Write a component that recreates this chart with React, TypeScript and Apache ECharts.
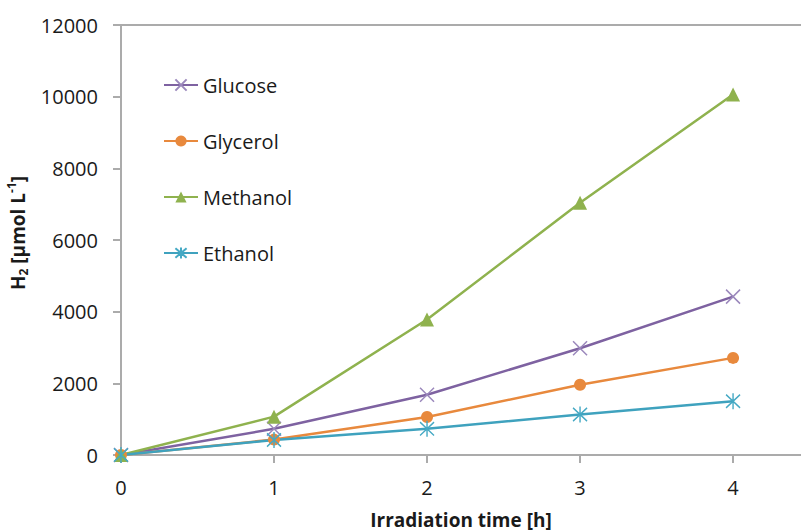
import React, { useEffect, useRef } from "react";
import * as echarts from "echarts";

const hours = [0, 1, 2, 3, 4];
const glucose = [0, 730, 1680, 2980, 4420];
const glycerol = [0, 430, 1060, 1960, 2710];
const methanol = [0, 1070, 3780, 7040, 10060];
const ethanol = [0, 420, 730, 1130, 1500];
const yTicks = [0, 2000, 4000, 6000, 8000, 10000, 12000];

const FONT = "Open Sans";
const AXIS_GRAY = "#ABABAB";

const pairs = (vals: number[]) => hours.map((h, i) => [h, vals[i]]);

export default function App() {
  const ref = useRef<HTMLDivElement>(null);
  useEffect(() => {
    document.body.style.margin = "0";
    if (!ref.current) return;
    const chart = echarts.init(ref.current, undefined, { renderer: "svg" });
    const xMax = 4.444;
    chart.setOption({
      animation: false,
      backgroundColor: "#ffffff",
      textStyle: { fontFamily: FONT },
      grid: { left: 121, right: 0, top: 25, bottom: 77, containLabel: false, outerBoundsMode: "none" },
      legend: {
        orient: "vertical",
        left: 158,
        top: 70,
        itemWidth: 34,
        itemHeight: 14,
        itemGap: 36,
        textStyle: { fontFamily: FONT, fontSize: 20, lineHeight: 20, color: "#1a1a1a" },
        data: ["Glucose", "Glycerol", "Methanol", "Ethanol"],
      },
      xAxis: [
        {
          type: "value",
          min: 0,
          max: xMax,
          interval: 1,
          name: "Irradiation time [h]",
          nameLocation: "middle",
          nameGap: 55,
          nameTextStyle: { fontFamily: FONT, fontSize: 19, fontWeight: "bold", color: "#1a1a1a" },
          axisLine: { show: true, lineStyle: { color: AXIS_GRAY, width: 2 } },
          axisTick: { show: true, inside: false, length: 8, lineStyle: { color: AXIS_GRAY, width: 2 }, customValues: hours },
          axisLabel: {
            margin: 22,
            fontFamily: FONT,
            fontSize: 20,
            color: "#1a1a1a",
            customValues: hours,
            formatter: (v: number) => (Number.isInteger(v) ? String(v) : ""),
          },
          splitLine: { show: false },
        },
        {
          type: "value",
          position: "top",
          min: 0,
          max: xMax,
          axisLine: { show: true, onZero: false, lineStyle: { color: AXIS_GRAY, width: 2 } },
          axisTick: { show: false },
          axisLabel: { show: false },
          splitLine: { show: false },
        },
      ],
      yAxis: {
        type: "value",
        min: yTicks[0],
        max: yTicks[yTicks.length - 1],
        interval: 2000,
        name: "{b|H}{sub|2}{b| [µmol L}{sup|-1}{b|]}",
        nameLocation: "middle",
        nameGap: 83,
        nameTextStyle: {
          padding: [0, 0, 0, 14],
          rich: {
            b: { fontFamily: FONT, fontSize: 19, fontWeight: "bold", color: "#1a1a1a", lineHeight: 24 },
            sub: { fontFamily: FONT, fontSize: 12, fontWeight: "bold", color: "#1a1a1a", lineHeight: 12, verticalAlign: "bottom" },
            sup: { fontFamily: FONT, fontSize: 12, fontWeight: "bold", color: "#1a1a1a", lineHeight: 12, verticalAlign: "top" },
          },
        },
        axisLine: { show: true, lineStyle: { color: AXIS_GRAY, width: 2 } },
        axisTick: { show: true, inside: false, length: 8, lineStyle: { color: AXIS_GRAY, width: 2 } },
        axisLabel: {
          margin: 23,
          fontFamily: FONT,
          fontSize: 20,
          color: "#1a1a1a",
          formatter: (v: number) => String(v),
        },
        splitLine: { show: false },
      },
      series: [
        {
          name: "Glucose",
          type: "line",
          data: pairs(glucose),
          color: "#7E62A1",
          lineStyle: { width: 2.5, color: "#7E62A1" },
          symbol: "path://M0,0L10,10M10,0L0,10",
          symbolSize: 14,
          itemStyle: { color: "none", borderColor: "#9B88BC", borderWidth: 1.5 },
        },
        {
          name: "Glycerol",
          type: "line",
          data: pairs(glycerol),
          color: "#E8893D",
          lineStyle: { width: 2.5, color: "#E8893D" },
          symbol: "circle",
          symbolSize: 12,
          itemStyle: { color: "#E8893D" },
        },
        {
          name: "Methanol",
          type: "line",
          data: pairs(methanol),
          color: "#8FB24E",
          lineStyle: { width: 2.5, color: "#8FB24E" },
          symbol: "triangle",
          symbolSize: 14,
          itemStyle: { color: "#8FB24E" },
        },
        {
          name: "Ethanol",
          type: "line",
          data: pairs(ethanol),
          color: "#3FA2BE",
          lineStyle: { width: 2.5, color: "#3FA2BE" },
          symbol: "path://M0,1L10,11M10,1L0,11M5,0L5,12",
          symbolSize: [14, 16],
          itemStyle: { color: "none", borderColor: "#45A9C4", borderWidth: 1.5 },
        },
      ],
    });
    return () => chart.dispose();
  }, []);
  return <div ref={ref} style={{ width: 801, height: 532 }} />;
}
